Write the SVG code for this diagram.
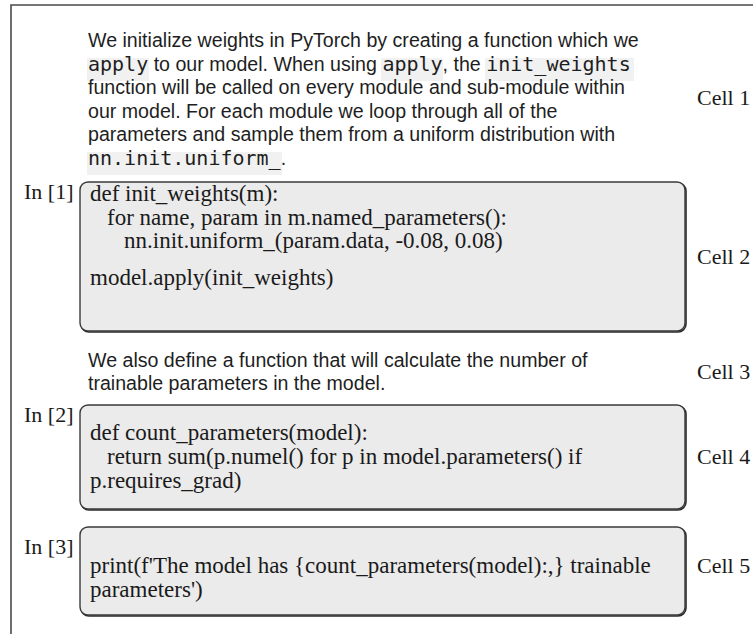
<svg xmlns="http://www.w3.org/2000/svg" width="753" height="634" viewBox="0 0 753 634">
  <style>
    .prose { font-family: "Liberation Sans", Arial, sans-serif; font-size: 19.6px; fill: #1e1e1e; }
    .mono { font-family: "DejaVu Sans Mono", "Liberation Mono", monospace; font-size: 20px; fill: #1e1e1e; }
    .codebg { fill: #f1f1f1; }
    .code { font-family: "Liberation Serif", "Times New Roman", serif; font-size: 23px; fill: #1a1a1a; }
    .label { font-family: "Liberation Serif", "Times New Roman", serif; font-size: 22px; fill: #1a1a1a; }
    .cellbox { fill: #ebebeb; stroke: #3a3a3a; stroke-width: 1.4; }
    .shade { fill: none; stroke: #2a2a2a; stroke-width: 1.6; }
    .frame { fill: none; stroke: #4a4a4a; stroke-width: 1.6; }
  </style>

  <!-- notebook frame -->
  <g id="frame">
    <path class="frame" d="M11,634 V5 H753"/>
  </g>

  <!-- Cell 1: markdown text with inline code -->
  <g id="cell1">
    <rect class="codebg" x="87" y="58" width="62" height="23"/>
    <rect class="codebg" x="381" y="58" width="62" height="23"/>
    <rect class="codebg" x="485" y="58" width="149" height="23"/>
    <rect class="codebg" x="87" y="152" width="195" height="23"/>
    <text class="prose" x="88" y="47">We initialize weights in PyTorch by creating a function which we</text>
    <text y="70.5"><tspan class="mono" x="88">apply</tspan><tspan class="prose" x="148.2"> to our model. When using </tspan><tspan class="mono" x="382.4">apply</tspan><tspan class="prose" x="442.6">, the </tspan><tspan class="mono" x="486.2">init_weights</tspan></text>
    <text class="prose" x="88" y="94">function will be called on every module and sub-module within</text>
    <text class="prose" x="88" y="117.5">our model. For each module we loop through all of the</text>
    <text class="prose" x="88" y="141">parameters and sample them from a uniform distribution with</text>
    <text y="164.5"><tspan class="mono" x="88">nn.init.uniform_</tspan><tspan class="prose" x="280.7">.</tspan></text>
    <text class="label" x="697" y="105">Cell 1</text>
  </g>

  <!-- Cell 2: code -->
  <g id="cell2">
    <text class="label" x="24" y="199">In [1]</text>
    <rect class="shade" x="81" y="183" width="605" height="149" rx="8"/>
    <rect class="cellbox" x="80" y="182" width="605" height="149" rx="8"/>
    <text class="code" x="90" y="201">def init_weights(m):</text>
    <text class="code" x="107" y="224.5">for name, param in m.named_parameters():</text>
    <text class="code" x="124" y="248">nn.init.uniform_(param.data, -0.08, 0.08)</text>
    <text class="code" x="90" y="285">model.apply(init_weights)</text>
    <text class="label" x="697" y="264">Cell 2</text>
  </g>

  <!-- Cell 3: markdown text -->
  <g id="cell3">
    <text class="prose" x="88" y="367">We also define a function that will calculate the number of</text>
    <text class="prose" x="88" y="390">trainable parameters in the model.</text>
    <text class="label" x="697" y="379">Cell 3</text>
  </g>

  <!-- Cell 4: code -->
  <g id="cell4">
    <text class="label" x="24" y="422">In [2]</text>
    <rect class="shade" x="81" y="406" width="605" height="104" rx="8"/>
    <rect class="cellbox" x="80" y="405" width="605" height="104" rx="8"/>
    <text class="code" x="90" y="440">def count_parameters(model):</text>
    <text class="code" x="107" y="464">return sum(p.numel() for p in model.parameters() if</text>
    <text class="code" x="90" y="488">p.requires_grad)</text>
    <text class="label" x="697" y="464">Cell 4</text>
  </g>

  <!-- Cell 5: code -->
  <g id="cell5">
    <text class="label" x="24" y="554">In [3]</text>
    <rect class="shade" x="81" y="528" width="605" height="88" rx="8"/>
    <rect class="cellbox" x="80" y="527" width="605" height="88" rx="8"/>
    <text class="code" x="90" y="573">print(f'The model has {count_parameters(model):,} trainable</text>
    <text class="code" x="90" y="597">parameters')</text>
    <text class="label" x="697" y="573">Cell 5</text>
  </g>

  <g id="connectors"/>
</svg>
